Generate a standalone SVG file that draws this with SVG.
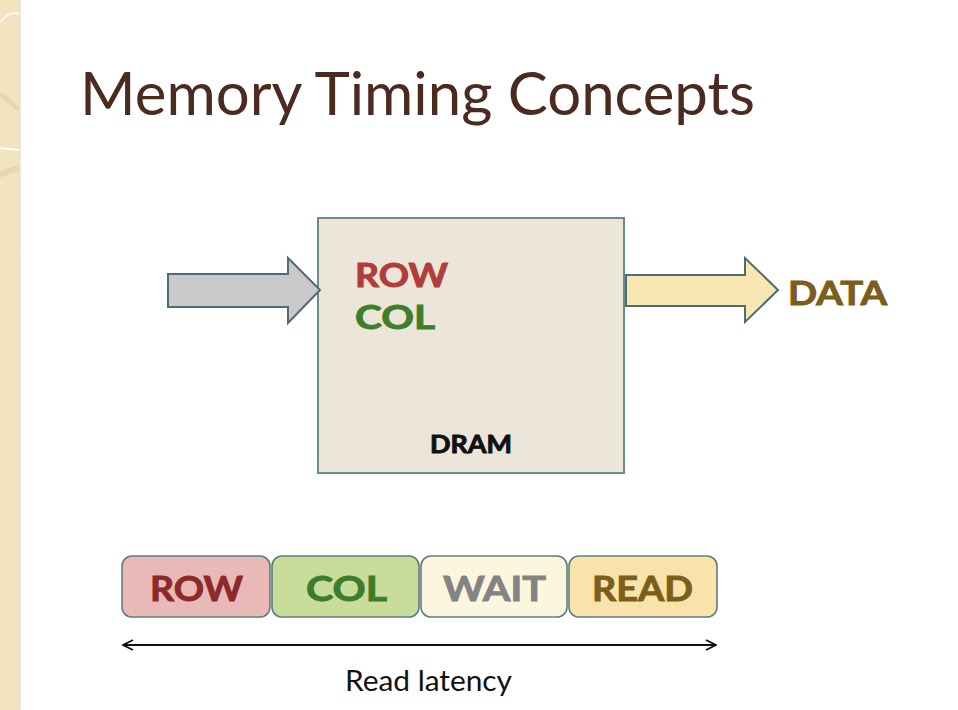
<svg xmlns="http://www.w3.org/2000/svg" width="958" height="710" viewBox="0 0 958 710">
<defs>
<marker id="ah" viewBox="0 0 12 12" refX="11" refY="6" markerWidth="12" markerHeight="12" markerUnits="userSpaceOnUse" orient="auto-start-reverse">
<path d="M1,1 L11,6 L1,11" fill="none" stroke="#111" stroke-width="1.8"/>
</marker>
<linearGradient id="edge" x1="0" x2="1" y1="0" y2="0">
<stop offset="0" stop-color="#c8b890" stop-opacity="0.6"/>
<stop offset="1" stop-color="#ffffff" stop-opacity="0"/>
</linearGradient>
</defs>
<style>
.t{font-family:Lato,"Open Sans","Liberation Sans",sans-serif;}
.b{font-weight:bold;stroke-width:0.9;}
.seg{stroke:#5f7e7e;stroke-width:1.6;}
</style>
<rect width="958" height="710" fill="#ffffff"/>
<g id="sidebar">
<rect x="0" y="0" width="19" height="710" fill="#f1e4bf"/>
<rect x="19" y="0" width="4" height="710" fill="url(#edge)"/>
<path d="M0,22 Q10,10 19,14" fill="none" stroke="#ffffff" stroke-width="2" opacity="0.7"/>
<path d="M0,95 Q10,100 19,110" fill="none" stroke="#e2d4ac" stroke-width="5" opacity="0.8"/>
<path d="M0,148 L19,150" fill="none" stroke="#ffffff" stroke-width="2" opacity="0.9"/>
<path d="M0,175 Q10,170 19,168" fill="none" stroke="#e2d4ac" stroke-width="6" opacity="0.8"/>
</g>
<g id="title">
<text class="t" x="80" y="115" font-size="60" fill="#4b2a20" textLength="675" lengthAdjust="spacingAndGlyphs">Memory Timing Concepts</text>
</g>
<g id="dram">
<rect x="318" y="218" width="306" height="255" fill="#ece5d9" stroke="#6b8c8c" stroke-width="2"/>
<text class="t b" x="355" y="287" font-size="32" fill="#b23c3a" stroke="#b23c3a" textLength="93" lengthAdjust="spacingAndGlyphs">ROW</text>
<text class="t b" x="355" y="329" font-size="32" fill="#3d7f2b" stroke="#3d7f2b" textLength="80" lengthAdjust="spacingAndGlyphs">COL</text>
<text class="t b" x="430" y="453" font-size="24" fill="#111111" stroke="#111111" stroke-width="0.6" textLength="82" lengthAdjust="spacingAndGlyphs">DRAM</text>
</g>
<g id="connectors">
<path id="in-arrow" d="M168,274 L288,274 L288,258 L320,290 L288,323 L288,307 L168,307 Z" fill="#c9c9c9" stroke="#4d6d74" stroke-width="2" stroke-linejoin="miter"/>
<path id="out-arrow" d="M626,275 L745,275 L745,258 L778,290 L745,322 L745,306 L626,306 Z" fill="#f8e6b3" stroke="#4d6d74" stroke-width="2"/>
<line x1="123" y1="645" x2="716" y2="645" stroke="#111" stroke-width="2" marker-start="url(#ah)" marker-end="url(#ah)"/>
</g>
<g id="data">
<text class="t b" x="788" y="305" font-size="32" fill="#7b5d1c" stroke="#7b5d1c" textLength="99" lengthAdjust="spacingAndGlyphs">DATA</text>
</g>
<g id="seg-row">
<rect class="seg" x="122" y="556" width="148" height="61" rx="10" fill="#e9b9b8"/>
<text class="t b" x="150" y="601" font-size="35" fill="#8c2a2a" stroke="#8c2a2a" textLength="93" lengthAdjust="spacingAndGlyphs">ROW</text>
</g>
<g id="seg-col">
<rect class="seg" x="272" y="556" width="147" height="61" rx="10" fill="#c9dd9a"/>
<text class="t b" x="306" y="601" font-size="35" fill="#3c7c2a" stroke="#3c7c2a" textLength="81" lengthAdjust="spacingAndGlyphs">COL</text>
</g>
<g id="seg-wait">
<rect class="seg" x="421" y="556" width="146" height="61" rx="10" fill="#fcf6de"/>
<text class="t b" x="443" y="601" font-size="35" fill="#838383" stroke="#838383" textLength="103" lengthAdjust="spacingAndGlyphs">WAIT</text>
</g>
<g id="seg-read">
<rect class="seg" x="569" y="556" width="148" height="61" rx="10" fill="#f8e4aa"/>
<text class="t b" x="592" y="601" font-size="35" fill="#7b5d1c" stroke="#7b5d1c" textLength="101" lengthAdjust="spacingAndGlyphs">READ</text>
</g>
<g id="latency">
<text class="t" x="345" y="691" font-size="29" fill="#111111" textLength="167" lengthAdjust="spacingAndGlyphs">Read latency</text>
</g>
</svg>
